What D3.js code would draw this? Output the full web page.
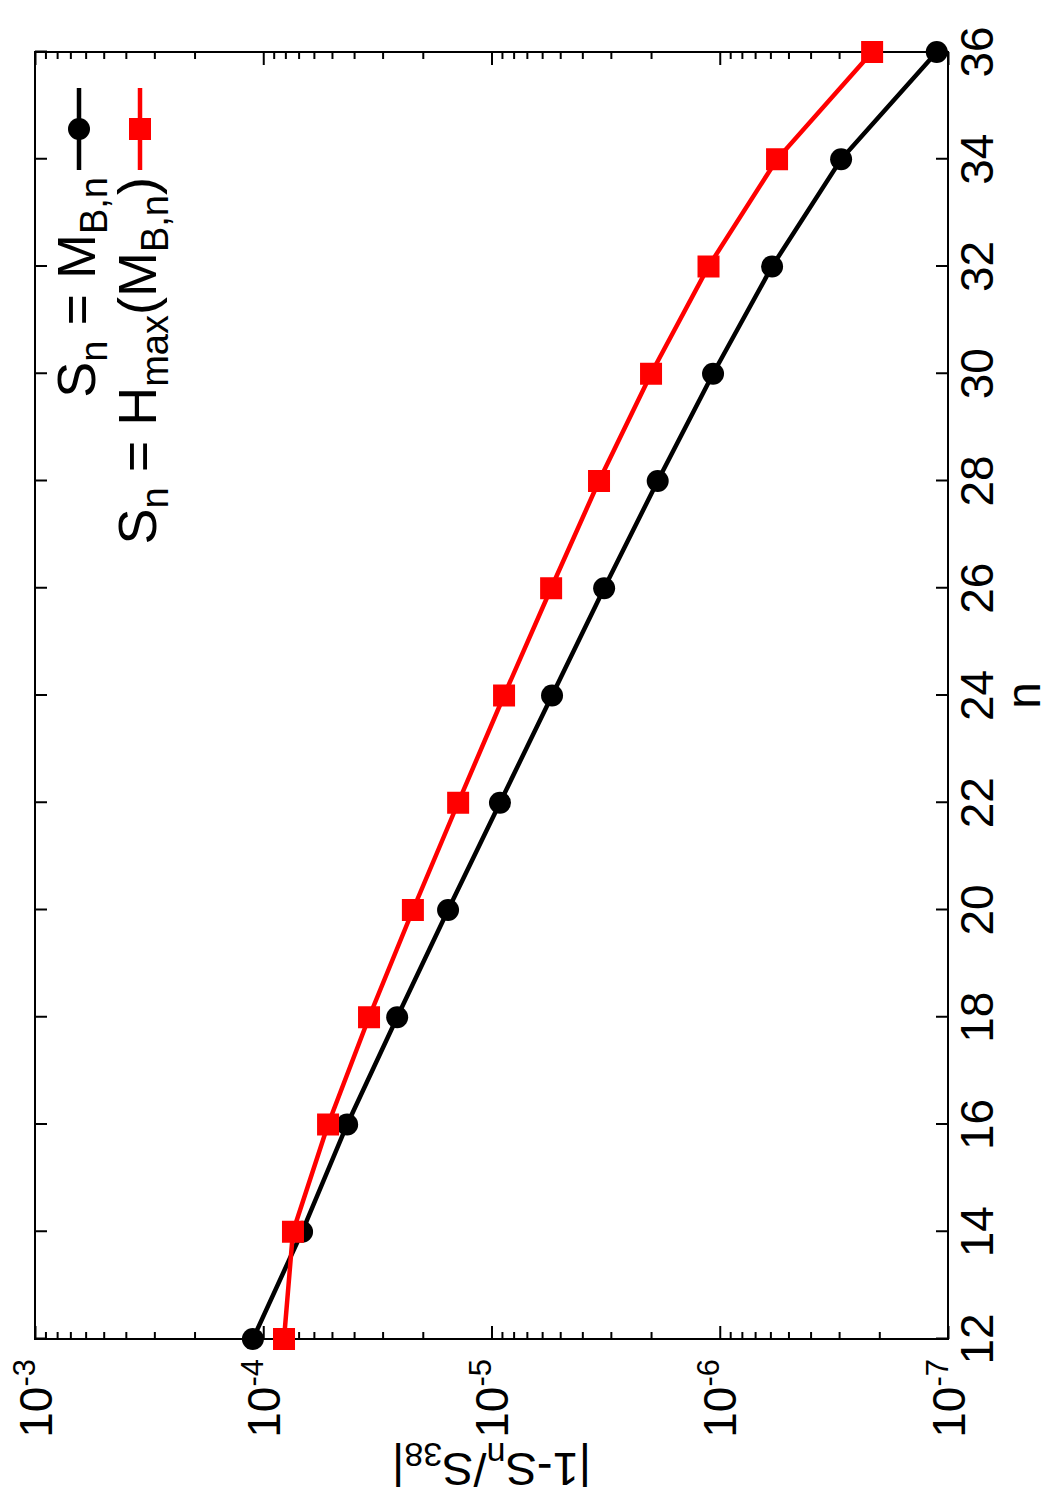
<!DOCTYPE html>
<html>
<head>
<meta charset="utf-8">
<script src="https://cdn.jsdelivr.net/npm/d3@7"></script>
<style>
  body { margin: 0; background: #fff; }
  svg text { font-family: "Liberation Sans", Arial, Helvetica, sans-serif; }
</style>
</head>
<body>
<svg id="chart" width="1050" height="1500"></svg>
<script>
const nValues = [12, 14, 16, 18, 20, 22, 24, 26, 28, 30, 32, 34, 36];
const mbValues = [1.11e-4, 6.76e-5, 4.29e-5, 2.59e-5, 1.55e-5, 9.18e-6, 5.43e-6,
                  3.21e-6, 1.87e-6, 1.07e-6, 5.9e-7, 2.94e-7, 1.12e-7];
const hmaxValues = [8.11e-5, 7.41e-5, 5.2e-5, 3.44e-5, 2.21e-5, 1.4e-5, 8.81e-6,
                    5.48e-6, 3.38e-6, 2.0e-6, 1.12e-6, 5.61e-7, 2.15e-7];
const nTicks = [12, 14, 16, 18, 20, 22, 24, 26, 28, 30, 32, 34, 36];
const logTickExps = [-3, -4, -5, -6, -7];

const svg = d3.select("#chart");

// the whole plot is drawn normally and then turned 90 degrees counter-clockwise
const W = 1287, H = 913;
const g = svg.append("g")
  .attr("transform", "translate(35,1339) rotate(-90)");

const x = d3.scaleLinear().domain([12, 36]).range([0, W]);
const y = d3.scaleLog().domain([1e-3, 1e-7]).range([0, H]);

const majors = logTickExps.map(e => Math.pow(10, e));
const minors = [];
for (let e = -7; e < -3; e++) {
  for (let k = 2; k <= 9; k++) minors.push(k * Math.pow(10, e));
}

function styleAxis(sel) {
  sel.select(".domain").remove();
  sel.selectAll(".tick line").attr("stroke", "#000").attr("stroke-width", 2);
}

g.append("g").attr("transform", `translate(0,${H})`)
  .call(d3.axisBottom(x).tickValues(nTicks).tickSizeInner(-12).tickSizeOuter(0).tickFormat(""))
  .call(styleAxis);
g.append("g")
  .call(d3.axisTop(x).tickValues(nTicks).tickSizeInner(-12).tickSizeOuter(0).tickFormat(""))
  .call(styleAxis);
g.append("g")
  .call(d3.axisLeft(y).tickValues(majors).tickSizeInner(-13).tickSizeOuter(0).tickFormat(""))
  .call(styleAxis);
g.append("g")
  .call(d3.axisLeft(y).tickValues(minors).tickSizeInner(-7).tickSizeOuter(0).tickFormat(""))
  .call(styleAxis);
g.append("g").attr("transform", `translate(${W},0)`)
  .call(d3.axisRight(y).tickValues(majors).tickSizeInner(-13).tickSizeOuter(0).tickFormat(""))
  .call(styleAxis);
g.append("g").attr("transform", `translate(${W},0)`)
  .call(d3.axisRight(y).tickValues(minors).tickSizeInner(-7).tickSizeOuter(0).tickFormat(""))
  .call(styleAxis);

g.append("rect")
  .attr("width", W).attr("height", H)
  .attr("fill", "none").attr("stroke", "#000").attr("stroke-width", 2);

// n tick labels
g.append("g").selectAll("text")
  .data(nTicks)
  .join("text")
  .attr("x", d => x(d))
  .attr("y", H + 12)
  .attr("dy", "0.72em")
  .attr("text-anchor", "middle")
  .attr("font-size", 46)
  .text(d => d);

// log tick labels 10^e
const yl = g.append("g").selectAll("text")
  .data(logTickExps)
  .join("text")
  .attr("x", -20)
  .attr("y", d => y(Math.pow(10, d)))
  .attr("dy", "0.36em")
  .attr("text-anchor", "end")
  .attr("font-size", 46);
yl.append("tspan").text("10");
yl.append("tspan").attr("font-size", 31).attr("dy", -17).text(d => "-" + (-d));

// axis titles
g.append("text")
  .attr("x", W / 2)
  .attr("y", H + 92)
  .attr("text-anchor", "middle")
  .attr("font-size", 48)
  .text("n");

const yt = g.append("text")
  .attr("transform", `translate(-114,${H / 2}) rotate(-90)`)
  .attr("text-anchor", "middle")
  .attr("font-size", 47);
yt.append("tspan").text("|1-S");
yt.append("tspan").attr("font-size", 34).attr("dy", 10).text("n");
yt.append("tspan").attr("dy", -10).text("/S");
yt.append("tspan").attr("font-size", 34).attr("dy", 10).text("38");
yt.append("tspan").attr("dy", -10).text("|");

// series
const series = [
  { name: "mb", values: mbValues, color: "#000000", shape: "circle" },
  { name: "hmax", values: hmaxValues, color: "#ff0000", shape: "square" }
];

const line = d3.line()
  .x(d => x(d[0]))
  .y(d => y(d[1]));

series.forEach(s => {
  const pts = nValues.map((n, i) => [n, s.values[i]]);
  g.append("path")
    .datum(pts)
    .attr("d", line)
    .attr("fill", "none")
    .attr("stroke", s.color)
    .attr("stroke-width", 4.5);
  if (s.shape === "circle") {
    g.append("g").selectAll("circle")
      .data(pts)
      .join("circle")
      .attr("cx", d => x(d[0]))
      .attr("cy", d => y(d[1]))
      .attr("r", 11)
      .attr("fill", s.color);
  } else {
    g.append("g").selectAll("rect")
      .data(pts)
      .join("rect")
      .attr("x", d => x(d[0]) - 11)
      .attr("y", d => y(d[1]) - 11)
      .attr("width", 22)
      .attr("height", 22)
      .attr("fill", s.color);
  }
});

// legend (top right in plot coordinates)
const legend = g.append("g");
const legRows = [
  { color: "#000000", shape: "circle", yc: 44 },
  { color: "#ff0000", shape: "square", yc: 105 }
];
legRows.forEach(r => {
  legend.append("line")
    .attr("x1", 1169).attr("x2", 1251)
    .attr("y1", r.yc).attr("y2", r.yc)
    .attr("stroke", r.color).attr("stroke-width", 4.5);
  if (r.shape === "circle") {
    legend.append("circle").attr("cx", 1210).attr("cy", r.yc).attr("r", 11).attr("fill", r.color);
  } else {
    legend.append("rect").attr("x", 1199).attr("y", r.yc - 11)
      .attr("width", 22).attr("height", 22).attr("fill", r.color);
  }
});

const t1 = legend.append("text")
  .attr("x", 1162).attr("y", 60)
  .attr("text-anchor", "end")
  .attr("font-size", 54);
t1.append("tspan").text("S");
t1.append("tspan").attr("font-size", 38).attr("dy", 12).text("n");
t1.append("tspan").attr("dy", -12).text(" = M");
t1.append("tspan").attr("font-size", 38).attr("dy", 12).text("B,n");

const t2 = legend.append("text")
  .attr("x", 1162).attr("y", 121)
  .attr("text-anchor", "end")
  .attr("font-size", 54);
t2.append("tspan").text("S");
t2.append("tspan").attr("font-size", 38).attr("dy", 12).text("n");
t2.append("tspan").attr("dy", -12).text(" = H");
t2.append("tspan").attr("font-size", 38).attr("dy", 12).text("max");
t2.append("tspan").attr("dy", -12).text("(M");
t2.append("tspan").attr("font-size", 38).attr("dy", 12).text("B,n");
t2.append("tspan").attr("dy", -12).text(")");
</script>
</body>
</html>
